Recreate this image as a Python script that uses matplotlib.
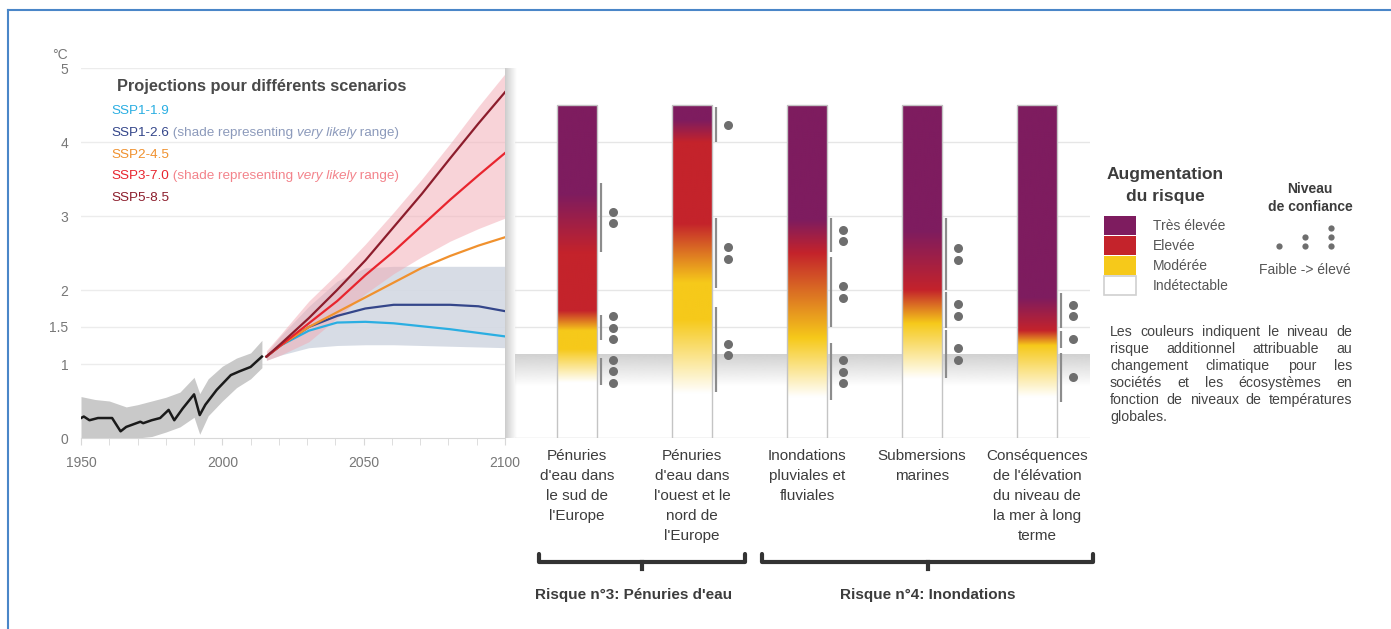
import numpy as np
import matplotlib.pyplot as plt
from matplotlib.colors import to_rgb
from matplotlib.lines import Line2D
from matplotlib.patches import Rectangle

W, H = 1391, 629

# observed warming since pre-industrial (°C)
hist_years = [1950, 1951, 1953, 1956, 1961, 1964, 1966, 1971, 1972, 1975, 1978, 1981,
              1983, 1986, 1990, 1992, 1994, 1998, 2003, 2006, 2010, 2014]
hist_temp = [0.27, 0.29, 0.24, 0.27, 0.27, 0.09, 0.15, 0.22, 0.20, 0.24, 0.27, 0.38,
             0.24, 0.40, 0.59, 0.31, 0.45, 0.65, 0.85, 0.90, 0.96, 1.10]
band_years = [1950, 1955, 1960, 1963, 1966, 1970, 1975, 1980, 1985, 1990, 1992, 1995,
              2000, 2005, 2010, 2014]
band_hi = [0.56, 0.52, 0.50, 0.46, 0.42, 0.45, 0.50, 0.55, 0.62, 0.82, 0.60, 0.80,
           0.97, 1.08, 1.15, 1.32]
band_lo = [0.0, 0.0, 0.0, 0.0, 0.0, 0.0, 0.02, 0.08, 0.15, 0.28, 0.05, 0.30,
           0.50, 0.68, 0.80, 0.95]

# scenario projections
proj_years = [2015, 2020, 2030, 2040, 2050, 2060, 2070, 2080, 2090, 2100]
ssp119 = [1.10, 1.25, 1.45, 1.56, 1.57, 1.55, 1.51, 1.47, 1.42, 1.37]
ssp126 = [1.10, 1.25, 1.50, 1.65, 1.75, 1.80, 1.80, 1.80, 1.78, 1.71]
ssp245 = [1.10, 1.25, 1.50, 1.70, 1.90, 2.10, 2.30, 2.46, 2.60, 2.72]
ssp370 = [1.10, 1.25, 1.55, 1.85, 2.20, 2.52, 2.87, 3.22, 3.55, 3.87]
ssp585 = [1.10, 1.27, 1.62, 2.00, 2.40, 2.85, 3.30, 3.78, 4.25, 4.70]
ssp126_lo = [1.05, 1.12, 1.22, 1.25, 1.26, 1.26, 1.25, 1.24, 1.23, 1.22]
ssp126_hi = [1.15, 1.38, 1.78, 2.12, 2.30, 2.32, 2.32, 2.32, 2.32, 2.32]
ssp370_lo = [1.05, 1.12, 1.30, 1.62, 1.95, 2.22, 2.45, 2.66, 2.83, 2.98]
ssp370_hi = [1.18, 1.40, 1.85, 2.22, 2.62, 3.05, 3.50, 3.98, 4.48, 4.95]

# risk bars
risk_labels = ["Pénuries\nd'eau dans\nle sud de\nl'Europe",
               "Pénuries\nd'eau dans\nl'ouest et le\nnord de\nl'Europe",
               "Inondations\npluviales et\nfluviales",
               "Submersions\nmarines",
               "Conséquences\nde l'élévation\ndu niveau de\nla mer à long\nterme"]
risk_stop_temps = [[0.75, 1.20, 1.45, 1.72, 2.50, 3.30],
                   [0.60, 1.60, 2.10, 2.90, 4.00, 4.30],
                   [0.55, 1.35, 2.50, 2.95],
                   [0.80, 1.55, 2.00, 2.80],
                   [0.55, 1.25, 1.45, 1.90]]
risk_stop_levels = [["Indétectable", "Modérée", "Modérée", "Elevée", "Elevée", "Très élevée"],
                    ["Indétectable", "Modérée", "Modérée", "Elevée", "Elevée", "Très élevée"],
                    ["Indétectable", "Modérée", "Elevée", "Très élevée"],
                    ["Indétectable", "Modérée", "Elevée", "Très élevée"],
                    ["Indétectable", "Modérée", "Elevée", "Très élevée"]]
# confidence ranges: (low, high, number of dots)
confidence = [[(2.51, 3.45, 2), (1.32, 1.66, 3), (0.72, 1.08, 3)],
              [(4.00, 4.47, 1), (2.03, 2.97, 2), (0.62, 1.77, 2)],
              [(2.51, 2.97, 2), (1.50, 2.45, 2), (0.51, 1.28, 3)],
              [(2.00, 2.97, 2), (1.49, 1.97, 2), (0.81, 1.46, 2)],
              [(1.49, 1.96, 2), (1.22, 1.45, 1), (0.49, 1.15, 1)]]
bar_top = 4.5
current_warming = 1.12

groups = ["Risque n°3: Pénuries d'eau", "Risque n°4: Inondations"]
levels = ["Très élevée", "Elevée", "Modérée", "Indétectable"]
level_colors = {"Très élevée": "#7e1c5f", "Elevée": "#c4232b",
                "Modérée": "#f6c91a", "Indétectable": "#ffffff"}

note_lines = ["Les couleurs indiquent le niveau de",
              "risque additionnel attribuable au",
              "changement climatique pour les",
              "sociétés et les écosystèmes en",
              "fonction de niveaux de températures",
              "globales."]

SANS = ['Liberation Sans', 'DejaVu Sans']
TXT = '#3c3c3c'


def fx(x):
    return x / W


def fy(y):
    return 1 - y / H


fig = plt.figure(figsize=(W / 100, H / 100), dpi=100)

# frame
fig.add_artist(Line2D([fx(8), 1], [fy(9.5), fy(9.5)], color='#4a86c8', lw=1.5))
fig.add_artist(Line2D([fx(8), fx(8)], [fy(9.5), 0], color='#4a86c8', lw=1.5))

bottom, height = fy(438), 370 / H

# ---------------- left: temperature projections
ax1 = fig.add_axes([fx(81), bottom, (505 - 81) / W, height])
ax1.set_xlim(1950, 2100)
ax1.set_ylim(0, 5)
for y in [1, 1.5, 2, 3, 4, 5]:
    ax1.axhline(y, color='#ececec', lw=1, zorder=0)

ax1.fill_between(band_years, band_lo, band_hi, color='#c9c9c9', lw=0, zorder=1)
ax1.plot(hist_years, hist_temp, color='#1a1a1a', lw=1.8, zorder=3)

py = np.array(proj_years) + 0.6
ax1.fill_between(py, ssp126_lo, ssp126_hi, color='#d3d9e3', lw=0, alpha=0.9, zorder=1)
ax1.fill_between(py, ssp370_lo, ssp370_hi, color='#f2a9b3', lw=0, alpha=0.5, zorder=1)
scen = [(ssp119, '#2aaee2'), (ssp126, '#34468a'), (ssp245, '#f0912e'),
        (ssp370, '#e8252e'), (ssp585, '#8c1d2c')]
for vals, c in scen:
    ax1.plot(py, vals, color=c, lw=1.6, zorder=3)

for s in ['left', 'right', 'top']:
    ax1.spines[s].set_visible(False)
ax1.spines['bottom'].set_color('#d8d8d8')
ax1.set_yticks([0, 1, 1.5, 2, 3, 4, 5])
ax1.set_yticklabels(['0', '1', '1.5', '2', '3', '4', '5'])
ax1.set_xticks([1950, 2000, 2050, 2100])
ax1.set_xticks(range(1960, 2100, 10), minor=True)
ax1.tick_params(axis='y', length=0, pad=9, labelcolor='#777777', labelsize=10)
ax1.tick_params(axis='x', which='both', length=5, color='#d8d8d8', pad=8,
                labelcolor='#777777', labelsize=10)
for lab in ax1.get_xticklabels() + ax1.get_yticklabels():
    lab.set_family(SANS)
fig.text(fx(60), fy(55), '°C', color='#777777', fontsize=10, family=SANS,
         ha='center', va='center')

# scenario legend
fig.text(fx(117), fy(87), 'Projections pour différents scenarios', fontsize=11.8,
         fontweight='bold', color='#4a4a4a', family=SANS, va='center')
leg = [('SSP1-1.9', '#2aaee2', None), ('SSP1-2.6', '#34468a', '#8c9abb'),
       ('SSP2-4.5', '#f0912e', None), ('SSP3-7.0', '#e8252e', '#f3838b'),
       ('SSP5-8.5', '#8c1d2c', None)]
fs = 9.7
for i, (name, c, pc) in enumerate(leg):
    t = fig.text(fx(111), fy(111 + 21.8 * i), name, color=c, fontsize=fs,
                 family=SANS, va='center')
    if pc:
        t = ax1.annotate(' (shade representing ', xy=(1, 0), xycoords=t, va='bottom',
                         color=pc, fontsize=fs, family=SANS)
        t = ax1.annotate('very likely', xy=(1, 0), xycoords=t, va='bottom',
                         color=pc, fontsize=fs, family=SANS, style='italic')
        ax1.annotate(' range)', xy=(1, 0), xycoords=t, va='bottom',
                     color=pc, fontsize=fs, family=SANS)

# shadow strip between panels
axs = fig.add_axes([fx(505), bottom, 12 / W, height])
axs.imshow(np.linspace(0.80, 1.0, 50)[None, :], cmap='gray', vmin=0, vmax=1,
           aspect='auto', extent=(0, 1, 0, 1))
axs.axis('off')

# ---------------- right: risk bars
ax2 = fig.add_axes([fx(515), bottom, (1090 - 515) / W, height])
ax2.set_ylim(0, 5)
ax2.set_xlim(-0.54, 4.46)
ax2.axis('off')
for y in [0, 1.5, 2, 3, 4]:
    ax2.axhline(y, color='#e6e6e6' if y else '#d8d8d8', lw=1, zorder=0)

# shaded level of current warming
shade = np.ones((100, 1, 4))
shade[..., :3] = 0.80
shade[:, 0, 3] = np.linspace(0, 0.9, 100)
ax2.imshow(shade, origin='lower', aspect='auto', zorder=0.5,
           extent=(-0.54, 4.46, current_warming - 0.42, current_warming))

bw = 0.348
yy = np.linspace(0, bar_top, 500)
for i, (temps, lv) in enumerate(zip(risk_stop_temps, risk_stop_levels)):
    cols = np.array([to_rgb(level_colors[l]) for l in lv])
    img = np.stack([np.interp(yy, temps, cols[:, k]) for k in range(3)], axis=-1)
    ax2.imshow(img[:, None, :], origin='lower', aspect='auto', zorder=2,
               extent=(i - bw / 2, i + bw / 2, 0, bar_top), interpolation='bilinear')
    ax2.add_patch(Rectangle((i - bw / 2, 0), bw, bar_top, fill=False,
                            ec='#c4c4c4', lw=1, zorder=3))
    for lo, hi, n in confidence[i]:
        ax2.plot([i + bw / 2 + 0.035] * 2, [lo, hi], color='#8c8c8c', lw=1.6,
                 solid_capstyle='butt', zorder=3)
        mid = (lo + hi) / 2
        ys = [mid + (k - (n - 1) / 2) * 0.155 for k in range(n)]
        ax2.plot([i + bw / 2 + 0.14] * n, ys, 'o', color='#6e6e6e', ms=6.5,
                 mec='none', zorder=3)
    ax2.text(i, -0.15, risk_labels[i], ha='center', va='top', fontsize=11,
             color=TXT, family=SANS, linespacing=1.55)

# group brackets
for (x0, x1, xm), name in zip([(539, 745, 642), (762, 1093, 928)], groups):
    fig.add_artist(Line2D([fx(x0), fx(x0), fx(x1), fx(x1)],
                          [fy(554), fy(562), fy(562), fy(554)],
                          color='#333333', lw=3, solid_joinstyle='round',
                          solid_capstyle='round'))
    fig.add_artist(Line2D([fx(xm), fx(xm)], [fy(562), fy(569)], color='#333333', lw=3))
    fig.text(fx(xm - 8 if xm < 700 else xm), fy(595), name, ha='center', va='center',
             fontsize=11, fontweight='bold', color=TXT, family=SANS)

# ---------------- risk legend
fig.text(fx(1165), fy(175), 'Augmentation', ha='center', va='center', fontsize=12.5,
         fontweight='bold', color=TXT, family=SANS)
fig.text(fx(1165), fy(197), 'du risque', ha='center', va='center', fontsize=12.5,
         fontweight='bold', color=TXT, family=SANS)
for k, name in enumerate(levels):
    y0 = 216 + 20 * k
    fig.add_artist(Rectangle((fx(1104), fy(y0 + 19)), 32 / W, 19 / H,
                             fc=level_colors[name],
                             ec='#d0d0d0' if name == 'Indétectable' else 'none',
                             lw=1.2, transform=fig.transFigure))
    fig.text(fx(1153), fy(y0 + 10), name, va='center', fontsize=10, color='#555555',
             family=SANS)

fig.text(fx(1310), fy(189), 'Niveau', ha='center', va='center', fontsize=10,
         fontweight='bold', color=TXT, family=SANS)
fig.text(fx(1310), fy(207), 'de confiance', ha='center', va='center', fontsize=10,
         fontweight='bold', color=TXT, family=SANS)
for k, x in enumerate([1279, 1305, 1331]):
    n = k + 1
    fig.add_artist(Line2D([fx(x)] * n, [fy(246 - 9 * j) for j in range(n)], ls='none',
                          marker='o', ms=4.5, color='#6e6e6e', mec='none'))
fig.text(fx(1305), fy(270), 'Faible -> élevé', ha='center', va='center', fontsize=10,
         color='#555555', family=SANS)

# justified note
renderer = fig.canvas.get_renderer()
x_left, x_right = 1110, 1352
for k, line in enumerate(note_lines):
    words = line.split()
    texts = [fig.text(0, fy(332 + 17 * k), w, va='center', fontsize=10.2,
                      color='#444444', family=SANS) for w in words]
    widths = [t.get_window_extent(renderer).width for t in texts]
    if k < len(note_lines) - 1 and len(words) > 1:
        gap = (x_right - x_left - sum(widths)) / (len(words) - 1)
    else:
        gap = texts[0].get_window_extent(renderer).height * 0.28
    x = x_left
    for t, w in zip(texts, widths):
        t.set_x(fx(x))
        x += w + gap

fig.savefig('out.png', dpi=100)
